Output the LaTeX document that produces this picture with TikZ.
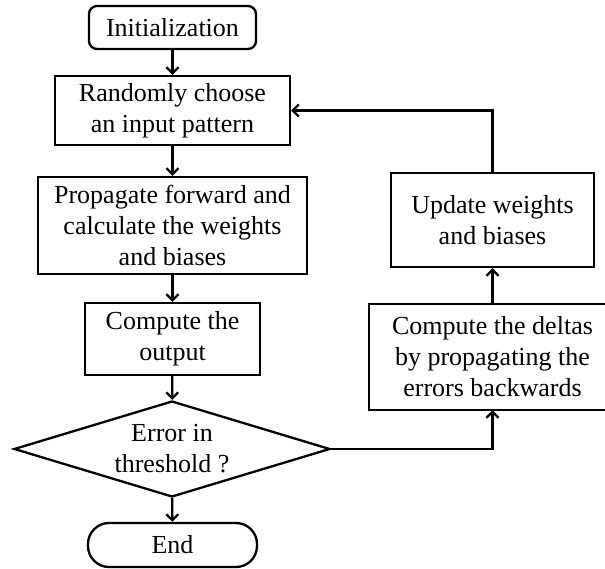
\documentclass[tikz,border=0pt]{standalone}
\usepackage{fontspec}
\setmainfont{Liberation Serif}
\usetikzlibrary{shapes.geometric,arrows.meta}
\begin{document}
\begin{tikzpicture}[x=1pt,y=-1pt,
  every node/.style={font=\fontsize{26}{31}\selectfont, align=center, inner sep=0pt},
  box/.style={draw, line width=2.3pt, rectangle},
  rbox/.style={box, rounded corners=8pt},
  term/.style={box, rounded corners=21pt},
  dec/.style={draw, line width=2.3pt, diamond, aspect=3.3},
  side/.style={line width=2.3pt},
  conn/.style={line width=2.3pt, -{Straight Barb[length=6pt,width=12pt,line width=2.3pt]}}
]
\useasboundingbox (0,0) rectangle (605,569);
\begin{scope}
\clip (0,0) rectangle (605,569);
\node[rbox, minimum width=167pt, minimum height=43pt] (init) at (172.5,27.5) {Initialization};
\node[box, minimum width=235pt, minimum height=69pt] (rand) at (172.5,110.5) {Randomly choose\\an input pattern};
\node[box, minimum width=269pt, minimum height=97pt] (prop) at (172.5,225.5) {Propagate forward and\\calculate the weights\\and biases};
\node[box, minimum width=175pt, minimum height=72pt] (out) at (172.5,339) {Compute the\\output};
\node[dec, minimum width=316pt, minimum height=96pt] (err) at (172,449) {Error in\\threshold ?};
\node[term, minimum width=169pt, minimum height=44pt] (end) at (172.5,545) {End};
\node[box, minimum width=203pt, minimum height=94pt] (upd) at (492.5,220) {Update weights\\and biases};
\node[minimum width=247pt, minimum height=106pt] (delta) at (492.5,357) {Compute the deltas\\by propagating the\\errors backwards};
\draw[side] (delta.north east) -- (delta.north west) -- (delta.south west) -- (delta.south east);
\draw[conn] (init) -- (rand);
\draw[conn] (rand) -- (prop);
\draw[conn] (prop) -- (out);
\draw[conn] (out) -- (err);
\draw[conn] (err) -- (end);
\draw[conn] (err.east) -| (delta.south);
\draw[conn] (delta) -- (upd);
\draw[conn] (upd.north) |- (rand.east);
\end{scope}
\end{tikzpicture}
\end{document}
